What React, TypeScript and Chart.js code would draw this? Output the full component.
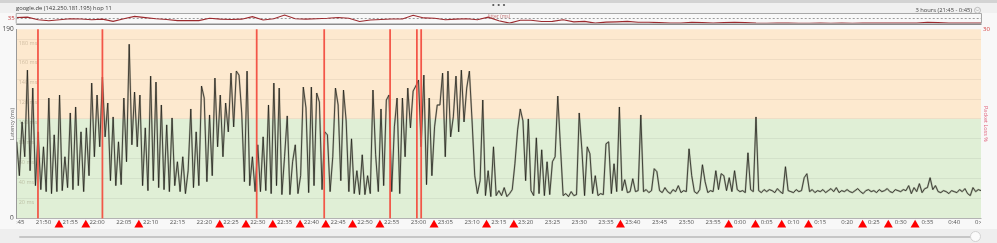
import React, { useEffect, useRef } from 'react';
import { Chart, registerables } from 'chart.js';

Chart.register(...registerables);

const FONT = '"Open Sans", "DejaVu Sans", Arial, sans-serif';

// ---------- text ----------
const chartTitle = 'google.de (142.250.181.195) hop 11';
const rangeLabel = '3 hours (21:45 - 0:45)';
const latencyAxisTitle = 'Latency (ms)';
const lossAxisTitle = 'Packet Loss %';
const jitterLabel = 'Jitter (ms)';

// ---------- time axis (minutes after 21:45) ----------
const timeTickLabels = [
  '21:45', '21:50', '21:55', '22:00', '22:05', '22:10', '22:15', '22:20', '22:25', '22:30',
  '22:35', '22:40', '22:45', '22:50', '22:55', '23:00', '23:05', '23:10', '23:15', '23:20',
  '23:25', '23:30', '23:35', '23:40', '23:45', '23:50', '23:55', '0:00', '0:05', '0:10',
  '0:15', '0:20', '0:25', '0:30', '0:35', '0:40', '0:45',
];
const tickStepMinutes = 5;
const rangeMinutes = 180;

// ---------- latency (ms), one sample every 30 s ----------
const latencyStepMinutes = 0.5;
const latencyMs = [
  77, 43, 97, 62, 149, 48, 131, 33, 87, 29,
  72, 27, 121, 25, 84, 27, 124, 28, 62, 31,
  106, 29, 112, 33, 87, 27, 91, 43, 136, 62,
  124, 72, 142, 82, 116, 38, 102, 33, 77, 34,
  121, 57, 175, 74, 127, 72, 124, 33, 91, 28,
  143, 38, 137, 31, 114, 29, 94, 27, 101, 33,
  57, 27, 62, 25, 48, 110, 31, 87, 33, 133,
  121, 37, 104, 43, 141, 72, 124, 62, 116, 87,
  146, 92, 148, 144, 106, 37, 148, 33, 62, 27,
  74, 27, 82, 28, 114, 25, 136, 33, 131, 24,
  62, 103, 24, 57, 74, 25, 43, 132, 111, 26,
  132, 33, 126, 117, 29, 87, 84, 27, 62, 131,
  114, 38, 129, 98, 27, 80, 25, 48, 24, 64,
  24, 43, 25, 129, 64, 27, 110, 33, 119, 124,
  27, 92, 121, 25, 121, 62, 131, 91, 128, 133,
  139, 72, 144, 34, 121, 43, 92, 114, 114, 146,
  62, 148, 82, 102, 143, 87, 149, 97, 131, 148,
  98, 43, 25, 38, 119, 23, 48, 22, 72, 23,
  28, 23, 31, 22, 25, 29, 55, 89, 110, 98,
  38, 100, 28, 23, 81, 25, 69, 23, 57, 24,
  57, 62, 123, 72, 23, 25, 22, 27, 23, 24,
  106, 69, 23, 72, 65, 25, 43, 23, 25, 24,
  75, 77, 25, 55, 27, 112, 28, 39, 26, 27,
  40, 27, 28, 104, 27, 29, 26, 28, 50, 47,
  28, 26, 31, 27, 25, 29, 27, 33, 26, 28,
  27, 70, 43, 27, 25, 29, 54, 37, 26, 28,
  27, 48, 29, 45, 43, 28, 41, 27, 48, 29,
  27, 28, 26, 66, 29, 27, 102, 28, 26, 29,
  27, 29, 28, 26, 30, 27, 25, 52, 28, 27,
  26, 29, 27, 28, 41, 45, 27, 29, 26, 28,
  27, 29, 26, 28, 30, 27, 31, 26, 28, 27,
  29, 27, 26, 28, 30, 27, 25, 28, 29, 27,
  28, 26, 29, 27, 28, 30, 27, 26, 29, 28,
  27, 29, 28, 33, 25, 31, 27, 35, 26, 30,
  31, 41, 29, 33, 27, 26, 28, 27, 25, 28,
  27, 26, 29, 27, 30, 25, 23, 31, 27, 29, 28,
];
const latencyGridTicks = [0, 20, 40, 60, 80, 100, 120, 140, 160, 180, 190];
const latencyMax = 190;
const zoneThresholdMs = 100;

// ---------- packet loss ----------
const lossLineMinutes = [3.97, 16.0, 44.8, 57.4, 69.7, 74.7, 75.5];
const lossLinePercent = [30, 30, 30, 30, 30, 30, 30];
const lossMax = 30;
const lossMarkerMinutes = [
  7.9, 12.9, 22.8, 37.9, 42.8, 47.8, 52.9, 57.7, 62.7, 67.8, 77.9,
  87.7, 92.8, 112.7, 132.9, 137.9, 142.8, 147.8, 157.9, 162.7, 167.7,
];

// ---------- jitter (ms), one sample every 2 min ----------
const jitterStepMinutes = 2;
const jitterMs = [
  38, 40, 23, 17, 23, 30, 28, 23, 27, 13,
  30, 45, 37, 30, 25, 18, 18, 18, 33, 27,
  25, 27, 43, 22, 30, 53, 30, 27, 30, 33,
  38, 33, 12, 22, 25, 28, 28, 52, 35, 33,
  23, 27, 30, 23, 40, 17, 2, 20, 20, 12,
  13, 23, 10, 13, 2, 8, 10, 13, 7, 7,
  5, 2, 2, 7, 5, 2, 5, 7, 5, 2,
  1, 2, 2, 1, 1, 2, 1, 2, 1, 2,
  2, 2, 2, 2, 2, 7, 5, 2, 2, 2,
  2,
];
const jitterRefMs = 35;
const jitterMax = 60;

// ---------- styling constants ----------
const MARKER_Y = -6.4; // latency-scale position of the loss markers below the axis

const edgeClipPlugin = {
  id: 'edgeClip',
  beforeDraw(chart: any) {
    const { ctx, chartArea: a } = chart;
    ctx.save();
    ctx.beginPath();
    ctx.rect(0, 0, a.left, a.bottom + 1);
    ctx.rect(a.left, 0, a.right - a.left, chart.height);
    ctx.rect(a.right, 0, chart.width - a.right, a.bottom);
    ctx.clip();
  },
  afterDraw(chart: any) {
    chart.ctx.restore();
  },
};

const zonesPlugin = {
  id: 'zones',
  beforeDraw(chart: any) {
    const { ctx, chartArea: a, scales } = chart;
    const y = scales.y;
    const yTop = y.getPixelForValue(latencyMax);
    const yMid = y.getPixelForValue(zoneThresholdMs);
    const yBot = y.getPixelForValue(0);
    ctx.save();
    ctx.fillStyle = '#fde9cf';
    ctx.fillRect(a.left, yTop, a.right - a.left, yMid - yTop);
    ctx.fillStyle = '#e0efd6';
    ctx.fillRect(a.left, yMid, a.right - a.left, yBot - yMid);
    ctx.restore();
  },
  beforeDatasetsDraw(chart: any) {
    const { ctx, chartArea: a, scales } = chart;
    const y = scales.y;
    ctx.save();
    ctx.font = `5.5px ${FONT}`;
    ctx.fillStyle = 'rgba(110,90,60,0.32)';
    ctx.textAlign = 'left';
    ctx.textBaseline = 'middle';
    latencyGridTicks.forEach((v) => {
      if (v === 0 || v === latencyMax) return;
      ctx.fillText(`${v} ms`, a.left + 2, y.getPixelForValue(v) + 3.7);
    });
    ctx.restore();
  },
};

const jitterDecorPlugin = {
  id: 'jitterDecor',
  beforeDatasetsDraw(chart: any) {
    const { ctx, chartArea: a, scales } = chart;
    const yRef = Math.round(scales.y.getPixelForValue(jitterRefMs)) + 0.5;
    ctx.save();
    ctx.strokeStyle = '#9a9a9a';
    ctx.lineWidth = 1;
    ctx.setLineDash([2, 2]);
    ctx.beginPath();
    ctx.moveTo(a.left, yRef);
    ctx.lineTo(a.right, yRef);
    ctx.stroke();
    ctx.restore();
  },
  afterDraw(chart: any) {
    const { ctx, chartArea: a } = chart;
    ctx.save();
    ctx.strokeStyle = '#a8a8a8';
    ctx.lineWidth = 1;
    ctx.beginPath();
    ctx.moveTo(a.left - 0.5, a.top - 0.5);
    ctx.lineTo(a.right + 0.5, a.top - 0.5);
    ctx.lineTo(a.right + 0.5, a.bottom);
    ctx.moveTo(a.left - 0.5, a.top - 0.5);
    ctx.lineTo(a.left - 0.5, a.bottom);
    ctx.stroke();
    ctx.strokeStyle = '#8c8c8c';
    ctx.lineWidth = 1.5;
    ctx.beginPath();
    ctx.moveTo(a.left - 0.5, a.bottom + 0.75);
    ctx.lineTo(a.right + 0.5, a.bottom + 0.75);
    ctx.stroke();

    ctx.font = `5px ${FONT}`;
    ctx.fillStyle = 'rgba(185,90,90,0.85)';
    ctx.textAlign = 'center';
    ctx.textBaseline = 'middle';
    ctx.fillText(jitterLabel, 499, 16.8);

    ctx.font = `5.8px ${FONT}`;
    ctx.fillStyle = '#3a3a3a';
    ctx.textAlign = 'left';
    ctx.fillText(chartTitle, 16, 8.5);
    ctx.textAlign = 'right';
    ctx.fillStyle = '#444';
    ctx.fillText(rangeLabel, 972, 10.3);

    ctx.strokeStyle = '#b0b0b0';
    ctx.lineWidth = 0.8;
    ctx.beginPath();
    ctx.arc(977.5, 10.3, 3, 0, Math.PI * 2);
    ctx.stroke();
    ctx.beginPath();
    ctx.moveTo(976, 9.5);
    ctx.lineTo(977.5, 11);
    ctx.lineTo(979, 9.5);
    ctx.stroke();

    ctx.fillStyle = '#555';
    [493.3, 498.7, 504].forEach((x) => {
      ctx.beginPath();
      ctx.arc(x, 5, 1.1, 0, Math.PI * 2);
      ctx.fill();
    });
    ctx.restore();
  },
};

export default function App() {
  const mainRef = useRef<HTMLCanvasElement | null>(null);
  const jitterRef = useRef<HTMLCanvasElement | null>(null);

  useEffect(() => {
    const timeTickMinutes = timeTickLabels.map((_, i) => i * tickStepMinutes);
    const latencyPoints = latencyMs.map((v, i) => ({ x: i * latencyStepMinutes, y: v }));

    const main = new Chart(mainRef.current as HTMLCanvasElement, {
      type: 'line',
      data: {
        datasets: [
          {
            type: 'bar',
            label: 'Packet loss',
            data: lossLineMinutes.map((m, i) => ({ x: m, y: lossLinePercent[i] })),
            yAxisID: 'yLoss',
            backgroundColor: 'rgba(242,78,64,0.95)',
            borderWidth: 0,
            barThickness: 1.1,
            order: 0,
          } as any,
          {
            type: 'scatter',
            label: 'Loss markers',
            data: lossMarkerMinutes.map((m) => ({ x: m, y: MARKER_Y })),
            yAxisID: 'y',
            pointStyle: 'triangle',
            pointRadius: 5.2,
            pointHoverRadius: 9,
            backgroundColor: '#ff0000',
            borderWidth: 0,
            clip: false,
            order: 1,
          } as any,
          {
            type: 'line',
            label: 'Latency',
            data: latencyPoints,
            yAxisID: 'y',
            borderColor: 'rgba(30,30,25,0.85)',
            borderWidth: 0.9,
            borderJoinStyle: 'bevel',
            pointRadius: 0,
            tension: 0,
            order: 2,
          } as any,
          {
            type: 'line',
            label: 'Latency band',
            data: latencyPoints,
            yAxisID: 'y',
            borderColor: 'rgba(105,105,90,0.38)',
            borderWidth: 1.9,
            borderJoinStyle: 'bevel',
            pointRadius: 0,
            tension: 0,
            order: 3,
          } as any,
        ],
      },
      options: {
        responsive: false,
        animation: false,
        devicePixelRatio: 1,
        events: [],
        layout: { padding: { top: 29.3, left: 0, right: 0, bottom: 0 } },
        plugins: { legend: { display: false }, tooltip: { enabled: false } },
        scales: {
          x: {
            type: 'linear',
            min: 0,
            max: rangeMinutes,
            offset: false,
            afterBuildTicks: (s: any) => {
              s.ticks = timeTickMinutes.map((v) => ({ value: v }));
            },
            afterFit: (s: any) => {
              s.height = 24.5;
            },
            ticks: {
              autoSkip: false,
              maxRotation: 0,
              minRotation: 0,
              padding: 0.5,
              color: '#555',
              font: { family: FONT, size: 6 },
              callback: (_v: any, i: number) => timeTickLabels[i],
            },
            grid: { display: false, drawTicks: false, offset: false },
            border: { display: true, color: '#b3b3b3' },
          },
          y: {
            type: 'linear',
            position: 'left',
            min: 0,
            max: latencyMax,
            afterBuildTicks: (s: any) => {
              s.ticks = latencyGridTicks.map((v) => ({ value: v }));
            },
            afterFit: (s: any) => {
              s.width = 16.7;
            },
            ticks: {
              autoSkip: false,
              padding: 3,
              color: '#444',
              font: { family: FONT, size: 6.5 },
              callback: (v: any) => (v === 0 || v === latencyMax ? String(v) : ''),
            },
            grid: {
              drawTicks: false,
              color: (ctx: any) =>
                ctx.tick && (ctx.tick.value === 0 || ctx.tick.value === latencyMax)
                  ? 'rgba(0,0,0,0)'
                  : 'rgba(0,0,0,0.055)',
            },
            border: { display: true, color: '#9a9a9a' },
            title: {
              display: true,
              text: latencyAxisTitle,
              color: '#666',
              font: { family: FONT, size: 5.5 },
              padding: { top: 9, bottom: 0 },
            },
          },
          yLoss: {
            type: 'linear',
            position: 'right',
            min: 0,
            max: lossMax,
            afterBuildTicks: (s: any) => {
              s.ticks = [{ value: lossMax }];
            },
            afterFit: (s: any) => {
              s.width = 16;
            },
            ticks: {
              padding: 2,
              color: '#d23a3a',
              font: { family: FONT, size: 6 },
              callback: (v: any) => String(v),
            },
            grid: { display: false, drawTicks: false },
            border: { display: false },
            title: {
              display: true,
              text: lossAxisTitle,
              color: '#e0607a',
              font: { family: FONT, size: 5.5 },
              padding: { top: 8, bottom: 0 },
            },
          },
        },
      } as any,
      plugins: [edgeClipPlugin, zonesPlugin],
    });

    const jitter = new Chart(jitterRef.current as HTMLCanvasElement, {
      type: 'line',
      data: {
        datasets: [
          {
            label: 'Jitter',
            data: jitterMs.map((v, i) => ({ x: i * jitterStepMinutes, y: v })),
            borderColor: '#9c2a2e',
            borderWidth: 1.1,
            pointRadius: 0,
            tension: 0,
          },
        ],
      },
      options: {
        responsive: false,
        animation: false,
        devicePixelRatio: 1,
        events: [],
        layout: { padding: { top: 14, bottom: 3, left: 0, right: 16 } },
        plugins: { legend: { display: false }, tooltip: { enabled: false } },
        scales: {
          x: { type: 'linear', display: false, min: 0, max: rangeMinutes },
          y: {
            type: 'linear',
            min: 0,
            max: jitterMax,
            afterBuildTicks: (s: any) => {
              s.ticks = [{ value: jitterRefMs }];
            },
            afterFit: (s: any) => {
              s.width = 16.7;
            },
            ticks: {
              padding: 2,
              color: '#c0393b',
              font: { family: FONT, size: 6 },
              callback: (v: any) => String(v),
            },
            grid: { display: false, drawTicks: false },
            border: { display: false },
          },
        },
      } as any,
      plugins: [jitterDecorPlugin],
    });

    return () => {
      main.destroy();
      jitter.destroy();
    };
  }, []);

  const abs = (s: React.CSSProperties): React.CSSProperties => ({ position: 'absolute', ...s });

  return (
    <div style={abs({ left: 0, top: 0, width: 997, height: 243, overflow: 'hidden', background: '#f8f8f8' })}>
      <div style={abs({ left: 0, top: 0, width: 997, height: 3, background: '#d3d3d3' })} />
      <div style={abs({ left: 0, top: 3, width: 997, height: 10, background: '#f0f0f0' })} />
      <div style={abs({ left: 0, top: 229, width: 997, height: 14, background: '#eeeeee' })} />
      <div style={abs({ left: 19, top: 236, width: 953, height: 2, background: '#c6c6c6', borderRadius: 1 })} />
      <div
        style={abs({
          left: 970,
          top: 231,
          width: 11,
          height: 11,
          borderRadius: '50%',
          background: '#fbfbfb',
          border: '1px solid #d2d2d2',
          boxSizing: 'border-box',
        })}
      />
      <canvas ref={mainRef} width={997} height={243} style={abs({ left: 0, top: 0, width: 997, height: 243 })} />
      <canvas ref={jitterRef} width={997} height={29} style={abs({ left: 0, top: 0, width: 997, height: 29 })} />
    </div>
  );
}
